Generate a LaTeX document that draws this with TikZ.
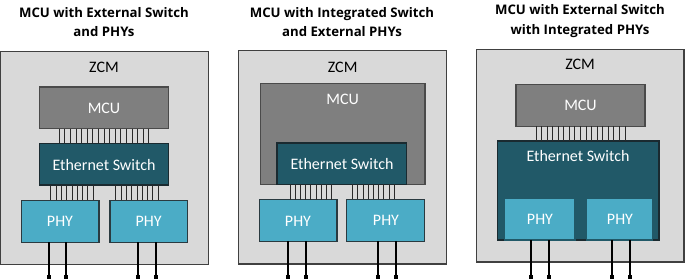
\documentclass[tikz,border=0pt]{standalone}
\usepackage{fontspec}
\setmainfont{Carlito}
\newfontfamily\titlefont{Open Sans}
\usetikzlibrary{calc}
\definecolor{zcmfill}{HTML}{D9D9D9}
\definecolor{zcmdraw}{HTML}{404040}
\definecolor{mcufill}{HTML}{7F7F7F}
\definecolor{mcudraw}{HTML}{4A4A4A}
\definecolor{swfill}{HTML}{215968}
\definecolor{swdraw}{HTML}{1A2A30}
\definecolor{phyfill}{HTML}{4BACC6}
\definecolor{phydraw}{HTML}{2A3A40}
\definecolor{wirecol}{HTML}{2A2A2A}
\tikzset{
  box/.style={draw, line width=1.2pt, minimum width=0pt, minimum height=0pt, inner sep=0pt},
  zcm/.style={box, fill=zcmfill, draw=zcmdraw},
  mcu/.style={box, fill=mcufill, draw=mcudraw},
  sw/.style={box, fill=swfill, draw=swdraw},
  phy/.style={box, fill=phyfill, draw=phydraw},
  lbl/.style={font=\fontsize{16}{18}\selectfont, inner sep=0pt},
  wlbl/.style={lbl, text=white},
  ttl/.style={font=\titlefont\bfseries\fontsize{13.2}{19.5}\selectfont, align=center, inner sep=0pt},
  bus/.style={draw=wirecol, line width=0.9pt},
  outw/.style={draw=black, line width=1.8pt},
  term/.style={fill=black, minimum size=4pt, inner sep=0pt, draw=none}
}
\begin{document}
\begin{tikzpicture}[x=1pt,y=-1pt]
\useasboundingbox (0,0) rectangle (685,279);
\fill[white] (0,0) rectangle (685,279);

% ================= Panel 1 =================
\node[ttl] (t1) at (104,22) {MCU with External Switch\\and PHYs};
\path[zcm] (0.7,51.7) rectangle (208.3,264.3);
\node[lbl] (z1l) at (104,67) {ZCM};
\path[mcu] (39.3,87) rectangle (168.7,128.7);
\node[coordinate] (m1s) at (104,128.7) {};
\node[wlbl] (m1l) at (104,108) {MCU};
\path[sw] (39.3,143.3) rectangle (168.3,185);
\node[coordinate] (s1n) at (104,143.3) {};
\node[coordinate] (s1s) at (104,185) {};
\node[wlbl] (s1l) at (104,164.5) {Ethernet Switch};
\path[phy] (21.3,200.3) rectangle (99,242.3);
\node[coordinate] (p1an) at (60,200.3) {};
\node[coordinate] (p1as) at (60,242.3) {};
\node[wlbl] (p1al) at (60,221.5) {PHY};
\path[phy] (110,200.3) rectangle (187.3,242.3);
\node[coordinate] (p1bn) at (148,200.3) {};
\node[coordinate] (p1bs) at (148,242.3) {};
\node[wlbl] (p1bl) at (148.6,221.5) {PHY};
\foreach \i in {0,...,16}{
  \pgfmathsetmacro\xx{59.3+\i*5.6}
  \draw[bus] (\xx,0 |- m1s) -- (\xx,0 |- s1n);
}
\foreach \i in {0,...,8}{
  \pgfmathsetmacro\xa{50.8+\i*5.3}
  \pgfmathsetmacro\xb{115.8+\i*5.3}
  \draw[bus] (\xa,0 |- s1s) -- (\xa,0 |- p1an);
  \draw[bus] (\xb,0 |- s1s) -- (\xb,0 |- p1bn);
}
\node[term] (e1a) at (48.7,277) {};
\node[term] (e1b) at (66.3,277) {};
\node[term] (e1c) at (138.3,277) {};
\node[term] (e1d) at (156,277) {};
\draw[outw] (e1a |- p1as) -- (e1a);
\draw[outw] (e1b |- p1as) -- (e1b);
\draw[outw] (e1c |- p1bs) -- (e1c);
\draw[outw] (e1d |- p1bs) -- (e1d);

% ================= Panel 2 =================
\node[ttl] (t2) at (342,22) {MCU with Integrated Switch\\and External PHYs};
\path[zcm] (238.3,50.7) rectangle (446.7,264);
\node[lbl] (z2l) at (342.7,67) {ZCM};
\path[mcu] (260.3,83.7) rectangle (425,184.3);
\node[wlbl] (m2l) at (342.7,99.5) {MCU};
\path[sw] (277,143) rectangle (406.7,184.3);
\node[coordinate] (s2s) at (342,184.3) {};
\node[wlbl] (s2l) at (342,164) {Ethernet Switch};
\path[phy] (259.3,199.7) rectangle (337,241.3);
\node[coordinate] (p2an) at (298,199.7) {};
\node[coordinate] (p2as) at (298,241.3) {};
\node[wlbl] (p2al) at (298,221) {PHY};
\path[phy] (346.7,199.3) rectangle (424.3,241.3);
\node[coordinate] (p2bn) at (385,199.3) {};
\node[coordinate] (p2bs) at (385,241.3) {};
\node[wlbl] (p2bl) at (386,220.5) {PHY};
\foreach \i in {0,...,8}{
  \pgfmathsetmacro\xa{290+\i*5.2}
  \pgfmathsetmacro\xb{352.7+\i*5.2}
  \draw[bus] (\xa,0 |- s2s) -- (\xa,0 |- p2an);
  \draw[bus] (\xb,0 |- s2s) -- (\xb,0 |- p2bn);
}
\node[term] (e2a) at (288.3,277) {};
\node[term] (e2b) at (306.3,277) {};
\node[term] (e2c) at (378.3,277) {};
\node[term] (e2d) at (396,277) {};
\draw[outw] (e2a |- p2as) -- (e2a);
\draw[outw] (e2b |- p2as) -- (e2b);
\draw[outw] (e2c |- p2bs) -- (e2c);
\draw[outw] (e2d |- p2bs) -- (e2d);

% ================= Panel 3 =================
\node[ttl] (t3) at (580,21) {MCU with External Switch\\with Integrated PHYs};
\path[zcm] (476.7,49.7) rectangle (684,262);
\node[lbl] (z3l) at (580,64) {ZCM};
\path[mcu] (516,84.3) rectangle (645,126.3);
\node[coordinate] (m3s) at (580,126.3) {};
\node[wlbl] (m3l) at (580.5,105.5) {MCU};
\path[sw] (497.7,141) rectangle (659,240);
\node[coordinate] (s3n) at (580,141) {};
\node[wlbl] (s3l) at (578,156) {Ethernet Switch};
\path[phy, draw=swfill] (504.3,198.7) rectangle (575,240);
\node[coordinate] (p3as) at (540,240) {};
\node[wlbl] (p3al) at (540,219.5) {PHY};
\path[phy, draw=swfill] (586.3,198.7) rectangle (652.7,240);
\node[coordinate] (p3bs) at (620,240) {};
\node[wlbl] (p3bl) at (620,219.5) {PHY};
\foreach \i in {0,...,16}{
  \pgfmathsetmacro\xx{536+\i*5.56}
  \draw[bus] (\xx,0 |- m3s) -- (\xx,0 |- s3n);
}
\node[term] (e3a) at (531,277) {};
\node[term] (e3b) at (548.7,277) {};
\node[term] (e3c) at (612.3,277) {};
\node[term] (e3d) at (630,277) {};
\draw[outw] (e3a |- p3as) -- (e3a);
\draw[outw] (e3b |- p3as) -- (e3b);
\draw[outw] (e3c |- p3bs) -- (e3c);
\draw[outw] (e3d |- p3bs) -- (e3d);
\end{tikzpicture}
\end{document}
